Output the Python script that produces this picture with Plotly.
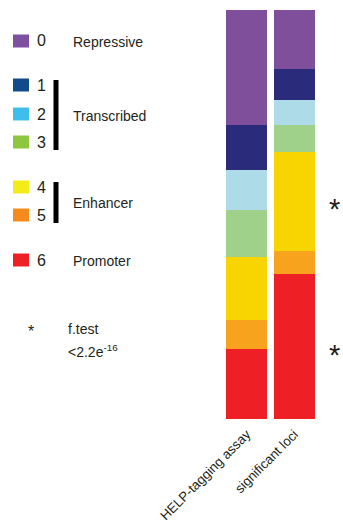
import plotly.graph_objects as go

# Chromatin-state composition of the two region sets
groups = ["HELP-tagging assay", "significant loci"]
states = ["0", "1", "2", "3", "4", "5", "6"]
help_tagging = [0.282, 0.109, 0.097, 0.115, 0.154, 0.073, 0.170]
significant = [0.144, 0.077, 0.061, 0.065, 0.242, 0.057, 0.354]
significant_states = ["4", "6"]  # states marked by f.test

bar_colors = ["#7F4F9B", "#2B2B7B", "#ADDBE8", "#9FD18A", "#F8D500", "#F8A31E", "#EE2026"]
key_colors = ["#7E51A0", "#114B8A", "#40BEEB", "#8DC63F", "#F3EC19", "#F58A1F", "#ED2124"]
groups_key = [("Repressive", ["0"]), ("Transcribed", ["1", "2", "3"]),
              ("Enhancer", ["4", "5"]), ("Promoter", ["6"])]

W, H = 343, 528
TXT = "#231F20"
FONT = "Liberation Sans, Arial, sans-serif"


def px(x):
    return x / W


def py(y):
    return 1 - y / H


fig = go.Figure()
# state 6 at the bottom of the stack, state 0 on top
for i in reversed(range(len(states))):
    fig.add_trace(go.Bar(
        x=groups, y=[help_tagging[i], significant[i]], name=states[i],
        marker=dict(color=bar_colors[i], line=dict(width=0)),
        showlegend=False,
    ))

shapes, annotations = [], []

# key on the left
key_y = {"0": 41, "1": 85, "2": 114, "3": 142, "4": 187, "5": 215, "6": 260}
for s, c in zip(states, key_colors):
    y = key_y[s]
    shapes.append(dict(type="rect", xref="paper", yref="paper",
                       x0=px(13), x1=px(29), y0=py(y - 6.5), y1=py(y + 6.5),
                       fillcolor=c, line=dict(width=0)))
    annotations.append(dict(text=s, xref="paper", yref="paper", x=px(35), y=py(y),
                            xanchor="left", yanchor="middle", showarrow=False,
                            font=dict(size=16, color=TXT, family=FONT)))
for label, members in groups_key:
    ys = [key_y[m] for m in members]
    if len(members) > 1:
        shapes.append(dict(type="rect", xref="paper", yref="paper",
                           x0=px(53.5), x1=px(58.5), y0=py(ys[0] - 5), y1=py(ys[-1] + 8),
                           fillcolor="black", line=dict(width=0)))
    annotations.append(dict(text=label, xref="paper", yref="paper", x=px(71),
                            y=py(sum(ys) / len(ys) + (1 if len(ys) == 1 else 2)),
                            xanchor="left", yanchor="middle", showarrow=False,
                            font=dict(size=14, color=TXT, family=FONT)))

annotations.append(dict(text="*", xref="paper", yref="paper", x=px(31), y=py(331),
                        xanchor="center", yanchor="middle", showarrow=False,
                        font=dict(size=16, color=TXT, family=FONT)))
annotations.append(dict(text="f.test", xref="paper", yref="paper", x=px(66), y=py(329),
                        xanchor="left", yanchor="middle", showarrow=False,
                        font=dict(size=14, color=TXT, family=FONT)))
annotations.append(dict(text="<2.2e<sup>-16</sup>", xref="paper", yref="paper", x=px(66), y=py(351),
                        xanchor="left", yanchor="middle", showarrow=False,
                        font=dict(size=14, color=TXT, family=FONT)))

# significance stars beside the significant-loci bar, at the middle of each segment
top = 1.0
for s, v in zip(states, significant):
    mid = top - v / 2
    top -= v
    if s in significant_states:
        annotations.append(dict(text="*", xref="paper", yref="y", x=px(334), y=mid,
                                xanchor="center", yanchor="middle", showarrow=False,
                                yshift=-8,
                                font=dict(size=29, color=TXT, family=FONT)))

fig.update_layout(
    width=W, height=H, barmode="stack", bargap=0.14,
    margin=dict(l=0, r=0, t=0, b=0),
    paper_bgcolor="white", plot_bgcolor="white",
    xaxis=dict(domain=[px(223), px(318)], tickangle=-45, showgrid=False,
               showline=False, zeroline=False, ticks="", automargin=False,
               ticklabelstandoff=4,
               tickfont=dict(size=13.3, color=TXT, family=FONT)),
    yaxis=dict(domain=[py(419), py(10)], range=[0, 1], visible=False,
               automargin=False),
    shapes=shapes, annotations=annotations,
)

fig.write_html("out.html")
